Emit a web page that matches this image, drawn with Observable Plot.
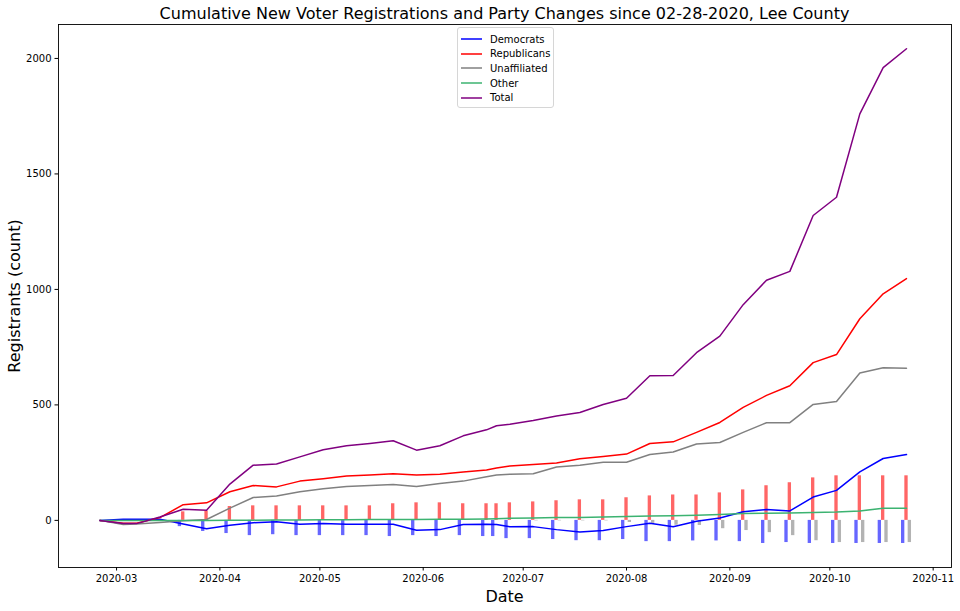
<!DOCTYPE html>
<html>
<head>
<meta charset="utf-8">
<script src="https://cdn.jsdelivr.net/npm/d3@7"></script>
<script src="https://cdn.jsdelivr.net/npm/@observablehq/plot@0.6"></script>
<style>
  body { margin: 0; background: #fff; font-family: "DejaVu Sans", sans-serif; }
  #wrap { position: relative; width: 960px; height: 611px; overflow: hidden; }
  #chart { position: absolute; left: 0; top: 0; }
  .overlay { position: absolute; color: #000; white-space: nowrap; }
  #title { left: 58px; width: 893px; top: 4px; text-align: center; font-size: 16px; }
  #xlabel { left: 58px; width: 893px; top: 587px; text-align: center; font-size: 16px; }
  #ylabel { left: 14px; top: 296px; font-size: 16px; transform: translate(-50%, -50%) rotate(-90deg); }
  #legend { position: absolute; left: 457px; top: 27px; width: 95px; height: 79px;
            border: 1px solid #d6d6d6; border-radius: 3px; background: rgba(255,255,255,0.8); }
  .lrow { position: absolute; left: 0; height: 14px; font-size: 10px; display: flex; align-items: center; }
  .lrow svg { margin-left: 3px; margin-right: 8px; }
</style>
</head>
<body>
<div id="wrap">
  <div id="chart"></div>
  <div id="title" class="overlay">Cumulative New Voter Registrations and Party Changes since 02-28-2020, Lee County</div>
  <div id="xlabel" class="overlay">Date</div>
  <div id="ylabel" class="overlay">Registrants (count)</div>
  <div id="legend"></div>
</div>
<script>
// ---- data ----
const dates = ["2020-02-25","2020-03-03","2020-03-07","2020-03-14","2020-03-21","2020-03-28",
  "2020-04-04","2020-04-11","2020-04-18","2020-04-25","2020-05-02","2020-05-09","2020-05-16",
  "2020-05-23","2020-05-30","2020-06-06","2020-06-13","2020-06-20","2020-06-23","2020-06-27",
  "2020-07-04","2020-07-11","2020-07-18","2020-07-25","2020-08-01","2020-08-08","2020-08-15",
  "2020-08-22","2020-08-29","2020-09-05","2020-09-12","2020-09-19","2020-09-26","2020-10-03",
  "2020-10-10","2020-10-17","2020-10-24"];

const democrats = [0,5,5,5,-16,-36,-21,-10,-6,-17,-14,-17,-17,-17,-43,-40,-18,-17,-18,-28,
  -27,-40,-50,-44,-27,-12,-28,-4,10,37,47,41,101,130,210,268,285];
const republicans = [0,-12,-12,12,68,76,124,151,145,170,180,192,196,202,196,200,209,218,227,235,
  242,248,267,277,287,333,340,381,424,489,541,583,683,718,873,981,1047];
const unaffiliated = [0,-18,-16,-9,-2,4,53,99,106,124,137,147,151,155,147,160,170,189,196,200,
  202,231,239,252,252,285,296,331,337,381,423,423,502,515,638,661,659];
const other = [0,-1,-1,-1,-1,0,1,1,2,2,3,3,4,4,4,5,5,6,7,9,10,12,13,15,17,19,20,22,26,30,31,32,
  34,36,41,53,53];
const total = [0,-14,-14,15,48,44,157,239,244,275,306,323,333,345,304,323,366,392,410,416,
  432,452,467,502,529,626,627,726,798,934,1040,1078,1320,1399,1760,1960,2042];

// cumulative party changes (bars)
const changeDem = [0,0,0,0,-27,-48,-57,-66,-62,-66,-66,-66,-66,-70,-66,-70,-66,-70,-70,-79,
  -79,-83,-88,-88,-83,-92,-92,-89,-89,-92,-100,-96,-100,-100,-100,-100,-100];
const changeRep = [0,0,0,0,37,40,60,63,63,63,63,63,63,72,76,76,72,72,72,76,
  80,85,89,89,98,106,110,110,119,132,150,163,184,193,193,193,193];
const changeUna = [0,0,0,0,0,0,0,0,0,0,0,0,0,0,0,0,0,0,0,0,
  -2,-2,-2,-2,-9,-13,-21,-22,-36,-44,-53,-66,-88,-96,-96,-96,-96];

const seriesNames = ["Democrats","Republicans","Unaffiliated","Other","Total"];
const seriesColors = ["blue","red","gray","mediumseagreen","purple"];
const seriesValues = [democrats, republicans, unaffiliated, other, total];

const barNames = ["Democrats","Republicans","Unaffiliated"];
const barColors = ["blue","red","gray"];
const barValues = [changeDem, changeRep, changeUna];
const barOffsetDays = [-1, 0, 1];

const xTicks = ["2020-03-01","2020-04-01","2020-05-01","2020-06-01","2020-07-01",
  "2020-08-01","2020-09-01","2020-10-01","2020-11-01"];
const yTicks = [0, 500, 1000, 1500, 2000];
const xDomain = ["2020-02-12T14:00:00Z", "2020-11-06T12:00:00Z"];
const yDomain = [-204, 2147];

// ---- build tables ----
const parse = s => new Date(s);
const DAY = 864e5;
const lineRows = [];
seriesNames.forEach((name, k) => {
  dates.forEach((d, i) => lineRows.push({series: name, date: parse(d), value: seriesValues[k][i]}));
});
const barRows = [];
barNames.forEach((name, k) => {
  dates.forEach((d, i) => {
    const t = parse(d).getTime() + barOffsetDays[k] * DAY;
    barRows.push({series: name, x1: new Date(t - 0.5 * DAY), x2: new Date(t + 0.5 * DAY), value: barValues[k][i]});
  });
});

const chart = Plot.plot({
  width: 960,
  height: 611,
  marginLeft: 58,
  marginRight: 9,
  marginTop: 24,
  marginBottom: 44,
  style: {fontFamily: "DejaVu Sans, sans-serif", fontSize: "10px", color: "#000", background: "#fff"},
  x: {type: "utc", domain: xDomain.map(parse)},
  y: {domain: yDomain},
  color: {domain: seriesNames, range: seriesColors},
  marks: [
    Plot.rect(barRows, {x1: "x1", x2: "x2", y1: 0, y2: "value", fill: "series", fillOpacity: 0.6}),
    Plot.line(lineRows, {x: "date", y: "value", z: "series", stroke: "series", strokeWidth: 1.5}),
    Plot.frame({stroke: "#000", strokeWidth: 0.9}),
    Plot.axisX({ticks: xTicks.map(parse), tickFormat: d3.utcFormat("%Y-%m"), tickSize: 3.5, tickPadding: 3.5, label: null}),
    Plot.axisY({ticks: yTicks, tickFormat: d3.format("d"), tickSize: 3.5, tickPadding: 3.5, label: null})
  ]
});
document.getElementById("chart").appendChild(chart);

// ---- legend ----
const legend = document.getElementById("legend");
seriesNames.forEach((name, k) => {
  const row = document.createElement("div");
  row.className = "lrow";
  row.style.top = (4 + k * 14.7) + "px";
  row.innerHTML = `<svg width="21" height="4"><line x1="0" x2="21" y1="2" y2="2" stroke="${seriesColors[k]}" stroke-width="1.5"/></svg><span>${name}</span>`;
  legend.appendChild(row);
});
</script>
</body>
</html>
